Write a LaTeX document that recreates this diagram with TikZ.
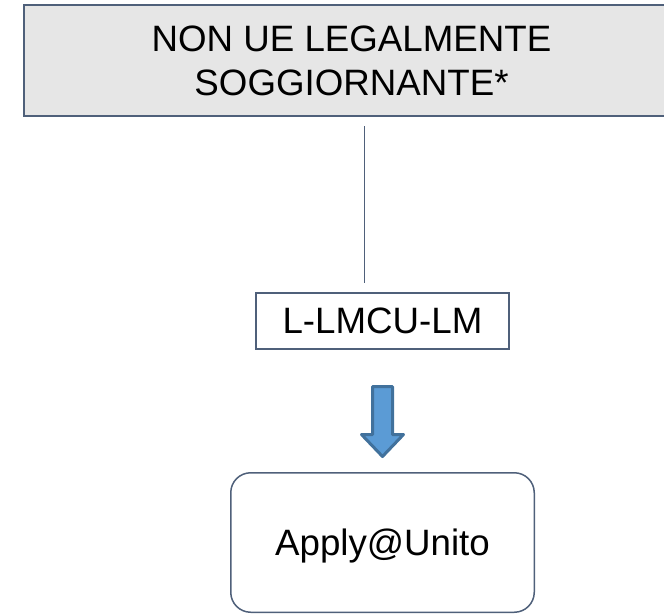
\documentclass[tikz,border=0pt]{standalone}
\usepackage{fontspec}
\setmainfont{Liberation Sans}
\definecolor{boxline}{RGB}{79,96,122}
\definecolor{boxgray}{RGB}{230,230,230}
\definecolor{arrowfill}{RGB}{91,155,213}
\definecolor{arrowline}{RGB}{65,113,156}

\begin{document}
\begin{tikzpicture}[x=1pt, y=-1pt,
   every node/.style = {inner sep=0pt, font=\fontsize{36.7}{44}\selectfont},
   headbox/.style = {draw=boxline, fill=boxgray, line width=2pt, align=center},
   codebox/.style = {draw=boxline, fill=white, line width=2pt},
   endbox/.style = {draw=boxline, fill=white, line width=1.5pt, rounded corners=20pt, text depth=0pt},
   bluearrow/.style = {draw=arrowline, fill=arrowfill, line width=3pt, line join=round}]
   \useasboundingbox (0,0) rectangle (664,614);
   \node[headbox, minimum width=655pt, minimum height=111pt] (status) at (351.5,60.5)
      {NON UE LEGALMENTE\\SOGGIORNANTE*};
   \node[codebox, minimum width=253pt, minimum height=56pt] (course) at (382.5,321) {L-LMCU-LM};
   \node[endbox, minimum width=303.5pt, minimum height=139.5pt] (apply) at (382.5,542.5) {Apply@Unito};
   \coordinate (stem) at (364,0);
   \draw[boxline, line width=1pt, shorten <=9pt, shorten >=9pt] (status.south -| stem) -- (course.north -| stem);
   % big arrow down to the portal
   \draw[bluearrow] (372.5,386.5) -- (392.5,386.5) -- (392.5,434.5) -- (403.5,434.5)
      -- (382.5,456.5) -- (361.5,434.5) -- (372.5,434.5) -- cycle;
\end{tikzpicture}
\end{document}
